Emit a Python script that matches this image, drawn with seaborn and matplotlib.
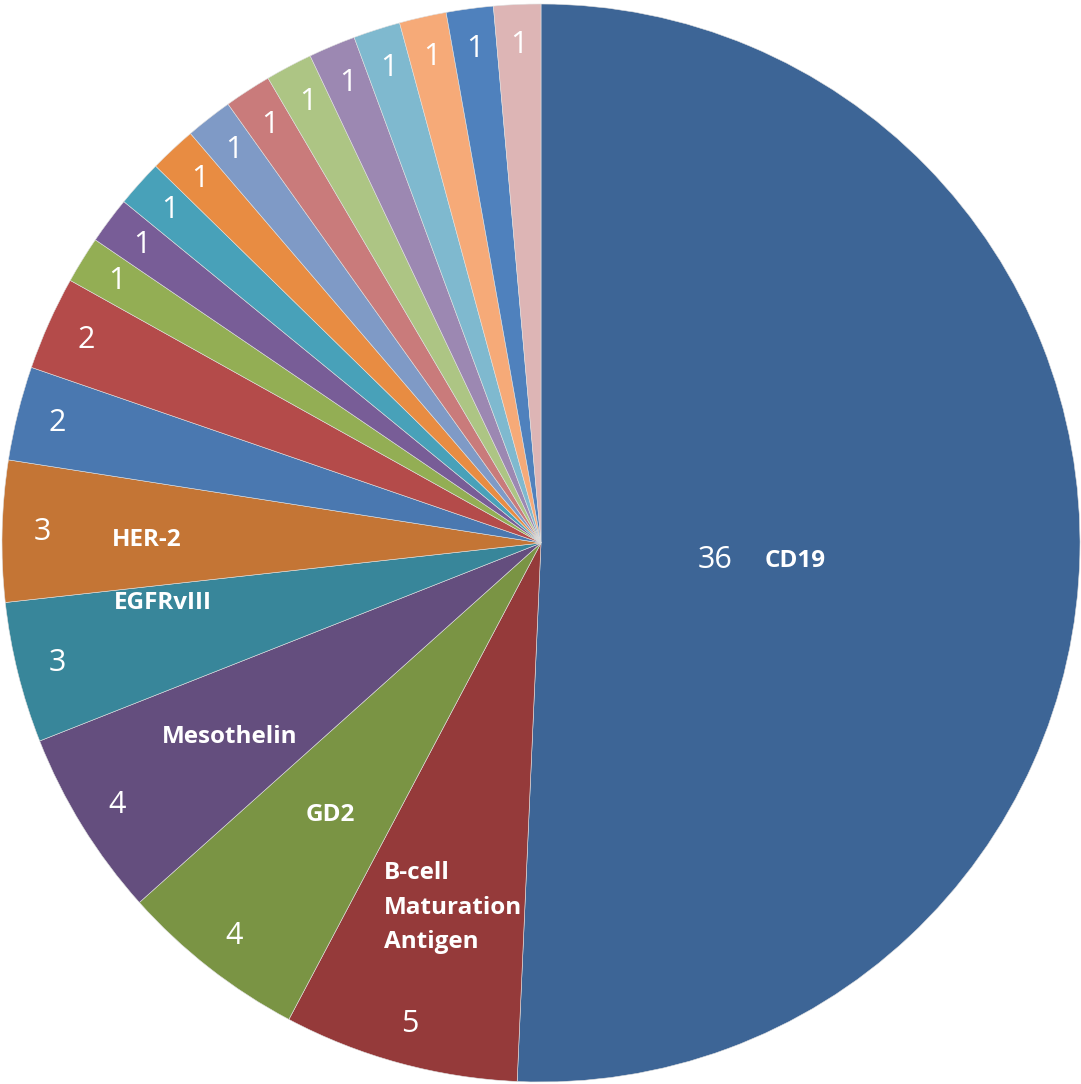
import numpy as np
import matplotlib
matplotlib.use("Agg")
import matplotlib.pyplot as plt
import seaborn as sns

# ---- data (clockwise from 12 o'clock) ----
categories = ["CD19", "B-cell\nMaturation\nAntigen", "GD2", "Mesothelin", "EGFRvIII", "HER-2",
              "", "", "", "", "", "", "", "", "", "", "", "", "", ""]
values = [36, 5, 4, 4, 3, 3, 2, 2, 1, 1, 1, 1, 1, 1, 1, 1, 1, 1, 1, 1]
colors = ["#3D6596", "#953A3A", "#7A9444", "#644E7E", "#38869A", "#C47535",
          "#4A78B0", "#B44B4A", "#93AE54", "#785D97", "#48A1B9", "#E88C42",
          "#7F9AC6", "#C97B7B", "#ADC584", "#9C88B2", "#7FB9CF", "#F6AA78",
          "#4F81BD", "#DDB5B5"]

sns.set_theme(style="white")
plt.rcParams["font.family"] = ["Open Sans", "DejaVu Sans"]

W, H, DPI = 1081, 1084, 100
fig = plt.figure(figsize=(W / DPI, H / DPI), dpi=DPI)
ax = fig.add_axes([0, 0, 1, 1])
palette = sns.color_palette(colors)

wedges, _ = ax.pie(values, colors=palette, startangle=90, counterclock=False,
                   radius=1.0, wedgeprops=dict(linewidth=0.4, edgecolor="#e0e0e0"))

# layout of labels: (radius, angle offset in degrees, counter-clockwise)
value_layout = {0: (0.325, -4.3)}
name_layout = {0: (0.472, -2.8), 1: (0.696, 1.6), 2: (0.638, 0.2), 3: (0.681, 0.3),
               4: (0.711, -4.9), 5: (0.731, 0.9)}

for i, (w, v, name) in enumerate(zip(wedges, values, categories)):
    mid = 0.5 * (w.theta1 + w.theta2)
    r, d = value_layout.get(i, (0.925, 0.0))
    a = np.deg2rad(mid + d)
    ax.text(r * np.cos(a), r * np.sin(a), str(v), color="white", fontsize=22,
            ha="center", va="center")
    if name:
        r, d = name_layout[i]
        a = np.deg2rad(mid + d)
        ax.text(r * np.cos(a), r * np.sin(a), name, color="white", fontsize=17.5,
                fontweight="bold", ha="center", va="center", multialignment="left",
                linespacing=1.6)

# place the pie: center at (541, 543) px from top-left, radius 539 px
cx, cy, R = 541, 543, 539
ax.set_xlim(-cx / R, (W - cx) / R)
ax.set_ylim(-(H - cy) / R, cy / R)
ax.set_aspect("auto")
ax.axis("off")
fig.savefig("out.png", dpi=DPI, facecolor="white")
